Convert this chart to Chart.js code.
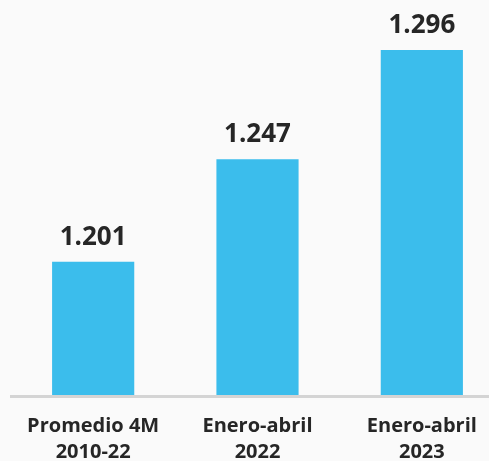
<!DOCTYPE html>
<html>
<head>
<meta charset="utf-8">
<script src="https://cdn.jsdelivr.net/npm/chart.js@4"></script>
<style>
  html, body { margin: 0; padding: 0; background: #fafafa; overflow: hidden; }
  #wrap { width: 489px; height: 461px; overflow: hidden; }
</style>
</head>
<body>
<div id="wrap"><canvas id="chart" width="504" height="461"></canvas></div>
<script>
const categories = [['Promedio 4M', '2010-22'], ['Enero-abril', '2022'], ['Enero-abril', '2023']]
const values = [1201, 1247, 1296]
const valueLabels = ['1.201', '1.247', '1.296']

// etiquetas de valor sobre cada barra
const valueLabelPlugin = {
    id: 'valueLabels',
    afterDatasetsDraw(chart) {
        const ctx = chart.ctx
        const meta = chart.getDatasetMeta(0)
        ctx.save()
        ctx.font = 'bold 26px "Open Sans"'
        ctx.fillStyle = '#262626'
        ctx.textAlign = 'center'
        ctx.textBaseline = 'alphabetic'
        meta.data.forEach((bar, i) => {
            ctx.fillText(valueLabels[i], bar.x, bar.y - 17)
        })
        ctx.restore()
    }
}

function initChart() {
    const ctx = document.getElementById('chart').getContext('2d')
    new Chart(ctx, {
        type: 'bar',
        data: {
            labels: categories,
            datasets: [{
                data: values,
                backgroundColor: '#3bbdec',
                borderWidth: 0,
                barPercentage: 0.5,
                categoryPercentage: 1
            }]
        },
        options: {
            responsive: false,
            animation: false,
            layout: { padding: { left: 11, top: 41, right: 0, bottom: 0 } },
            plugins: {
                legend: { display: false },
                tooltip: { enabled: false }
            },
            scales: {
                x: {
                    grid: { display: false, drawTicks: false },
                    border: { display: true, color: '#d4d4d4', width: 3, z: 1 },
                    ticks: {
                        color: '#262626',
                        padding: 17,
                        maxRotation: 0,
                        autoSkip: false,
                        font: { family: '"Open Sans"', size: 20, weight: 'bold', lineHeight: 1.3 }
                    },
                    afterFit(scale) { scale.height = 64.5 }
                },
                y: {
                    display: false,
                    min: 1140.5,
                    max: 1300
                }
            }
        },
        plugins: [valueLabelPlugin]
    })
}

initChart()
</script>
</body>
</html>
